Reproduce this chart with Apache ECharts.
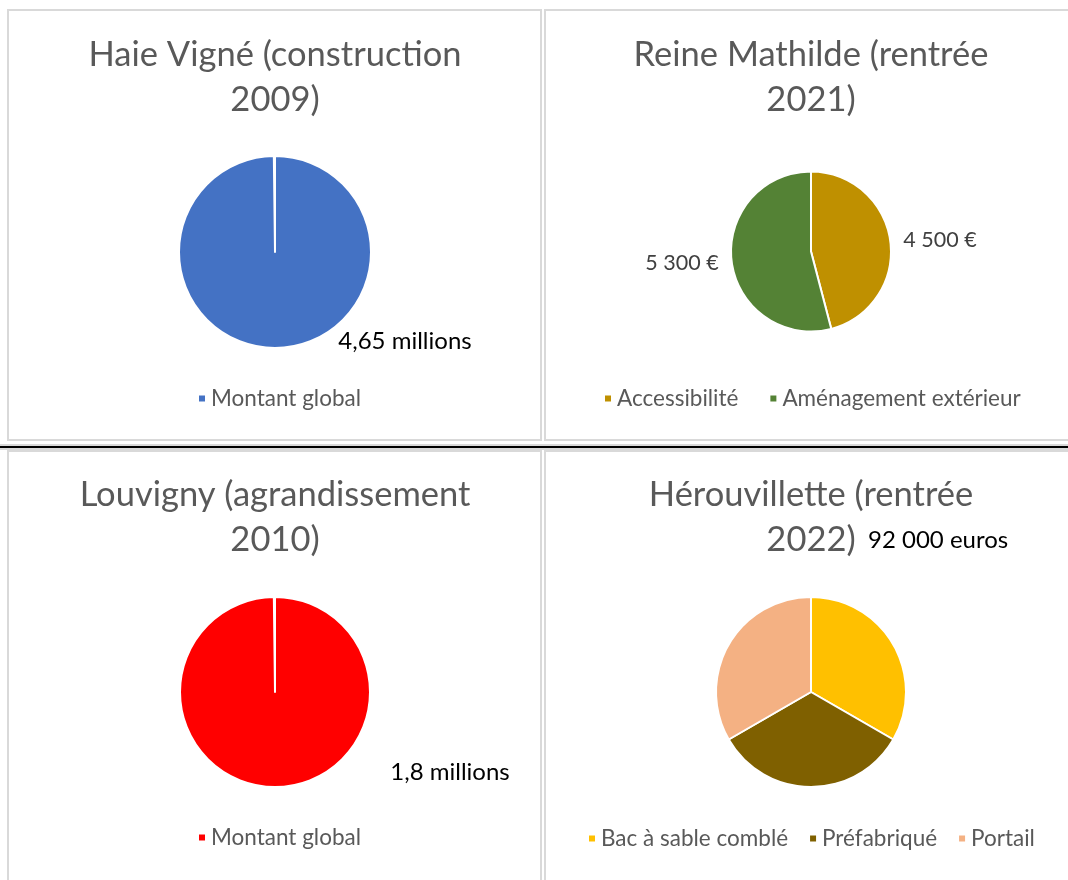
<!DOCTYPE html>
<html>
<head>
<meta charset="utf-8">
<script src="https://cdn.jsdelivr.net/npm/echarts@6/dist/echarts.min.js"></script>
<style>
html,body{margin:0;padding:0;background:#fff;}
#chart{width:1068px;height:880px;}
</style>
</head>
<body>
<div id="chart"></div>
<script>
// ---- Data ----
const haieTitle = 'Haie Vigné (construction\n2009)';
const haieCategories = ['Montant global'];
const haieValues = [4.65]; // millions

const mathildeTitle = 'Reine Mathilde (rentrée\n2021)';
const mathildeCategories = ['Accessibilité', 'Aménagement extérieur'];
const mathildeValues = [4500, 5300]; // euros

const louvignyTitle = 'Louvigny (agrandissement\n2010)';
const louvignyCategories = ['Montant global'];
const louvignyValues = [1.8]; // millions

const herouTitle = 'Hérouvillette (rentrée\n2022)';
const herouCategories = ['Bac à sable comblé', 'Préfabriqué', 'Portail'];
const herouValues = [1, 1, 1]; // equal shares
const herouTotalLabel = '92 000 euros';

// ---- Styles ----
const FONT = 'Lato';
const haieColors = ['#4472C4'];
const mathildeColors = ['#BF9000', '#548235'];
const louvignyColors = ['#FF0000'];
const herouColors = ['#FFC000', '#7F6000', '#F4B183'];

function fmtMillions(v) { return String(v).replace('.', ',') + ' millions'; }
function fmtEuro(v) { return String(v).replace(/\B(?=(\d{3})+(?!\d))/g, ' ') + ' €'; }

function mk(cats, vals, colors) {
  return cats.map((c, i) => ({ name: c, value: vals[i], itemStyle: { color: colors[i] } }));
}

const titleStyle = { fontFamily: FONT, fontSize: 34.5, fontWeight: 'normal', color: '#595959', lineHeight: 45 };
const legendText = { fontFamily: FONT, fontSize: 22.5, color: '#595959' };

const P1 = { c: [275, 252], r: 96 };
const P2 = { c: [811, 251.5], r: 80 };
const P3 = { c: [275, 692], r: 95 };
const P4 = { c: [811, 692], r: 95 };

const chart = echarts.init(document.getElementById('chart'), null, { renderer: 'canvas' });

const borderStyle = { fill: 'none', stroke: '#D9D9D9', lineWidth: 2 };

const option = {
  animation: false,
  backgroundColor: '#fff',
  graphic: [
    { type: 'rect', shape: { x: 8, y: 10, width: 533, height: 430 }, style: borderStyle, silent: true },
    { type: 'rect', shape: { x: 545, y: 10, width: 540, height: 430 }, style: borderStyle, silent: true },
    { type: 'rect', shape: { x: 8, y: 451, width: 533, height: 450 }, style: borderStyle, silent: true },
    { type: 'rect', shape: { x: 545, y: 451, width: 540, height: 450 }, style: borderStyle, silent: true },
    { type: 'rect', shape: { x: 0, y: 444, width: 1068, height: 6 }, style: { fill: '#D9D9D9' }, silent: true },
    { type: 'rect', shape: { x: 0, y: 446, width: 1068, height: 2 }, style: { fill: '#000' }, silent: true }
  ],
  title: [
    { text: haieTitle, left: 275, top: 32, textAlign: 'center', padding: 0, textStyle: titleStyle },
    { text: mathildeTitle, left: 811, top: 32, textAlign: 'center', padding: 0, textStyle: titleStyle },
    { text: louvignyTitle, left: 275, top: 472, textAlign: 'center', padding: 0, textStyle: titleStyle },
    { text: herouTitle, left: 811, top: 472, textAlign: 'center', padding: 0, textStyle: titleStyle },
    { text: herouTotalLabel, left: 868, top: 528, padding: 0,
      textStyle: { fontFamily: FONT, fontSize: 24, fontWeight: 'normal', color: '#000' } }
  ],
  legend: [
    { left: 197, top: 387, padding: 0, icon: 'rect', itemWidth: 8, itemHeight: 8, itemGap: 30,
      textStyle: legendText, selectedMode: false,
      data: haieCategories.map((n, i) => ({ name: n, itemStyle: { color: haieColors[i] } })) },
    { left: 603, top: 387, padding: 0, icon: 'rect', itemWidth: 8, itemHeight: 8, itemGap: 30,
      textStyle: legendText, selectedMode: false,
      data: mathildeCategories.map((n, i) => ({ name: n, itemStyle: { color: mathildeColors[i] } })) },
    { left: 197, top: 826, padding: 0, icon: 'rect', itemWidth: 8, itemHeight: 8, itemGap: 30,
      textStyle: legendText, selectedMode: false,
      data: louvignyCategories.map((n, i) => ({ name: n, itemStyle: { color: louvignyColors[i] } })) },
    { left: 587, top: 827, padding: 0, icon: 'rect', itemWidth: 8, itemHeight: 8, itemGap: 20,
      textStyle: legendText, selectedMode: false,
      data: herouCategories.map((n, i) => ({ name: n, itemStyle: { color: herouColors[i] } })) }
  ],
  series: [
    {
      type: 'pie', center: P1.c, radius: P1.r, startAngle: 90, endAngle: -269.3, clockwise: true,
      itemStyle: { borderColor: '#fff', borderWidth: 2 },
      label: { show: true, formatter: p => fmtMillions(p.value), fontFamily: FONT, fontSize: 24, color: '#000' },
      labelLine: { show: false },
      labelLayout: () => ({ x: P1.c[0] + 130, y: P1.c[1] + 89, align: 'center', verticalAlign: 'middle' }),
      emphasis: { disabled: true },
      data: mk(haieCategories, haieValues, haieColors)
    },
    {
      type: 'pie', center: P2.c, radius: P2.r, startAngle: 90, clockwise: true,
      itemStyle: { borderColor: '#fff', borderWidth: 2 },
      label: { show: true, position: 'outside', formatter: p => fmtEuro(p.value), fontFamily: FONT, fontSize: 21.5, color: '#404040' },
      labelLine: { show: false, length: 8, length2: 0 },
      emphasis: { disabled: true },
      data: mk(mathildeCategories, mathildeValues, mathildeColors)
    },
    {
      type: 'pie', center: P3.c, radius: P3.r, startAngle: 90, endAngle: -269.3, clockwise: true,
      itemStyle: { borderColor: '#fff', borderWidth: 2 },
      label: { show: true, formatter: p => fmtMillions(p.value), fontFamily: FONT, fontSize: 24, color: '#000' },
      labelLine: { show: false },
      labelLayout: () => ({ x: P3.c[0] + 175, y: P3.c[1] + 80, align: 'center', verticalAlign: 'middle' }),
      emphasis: { disabled: true },
      data: mk(louvignyCategories, louvignyValues, louvignyColors)
    },
    {
      type: 'pie', center: P4.c, radius: P4.r, startAngle: 90, clockwise: true,
      itemStyle: { borderColor: '#fff', borderWidth: 2 },
      label: { show: false },
      labelLine: { show: false },
      emphasis: { disabled: true },
      data: mk(herouCategories, herouValues, herouColors)
    }
  ]
};
chart.setOption(option);
</script>
</body>
</html>
